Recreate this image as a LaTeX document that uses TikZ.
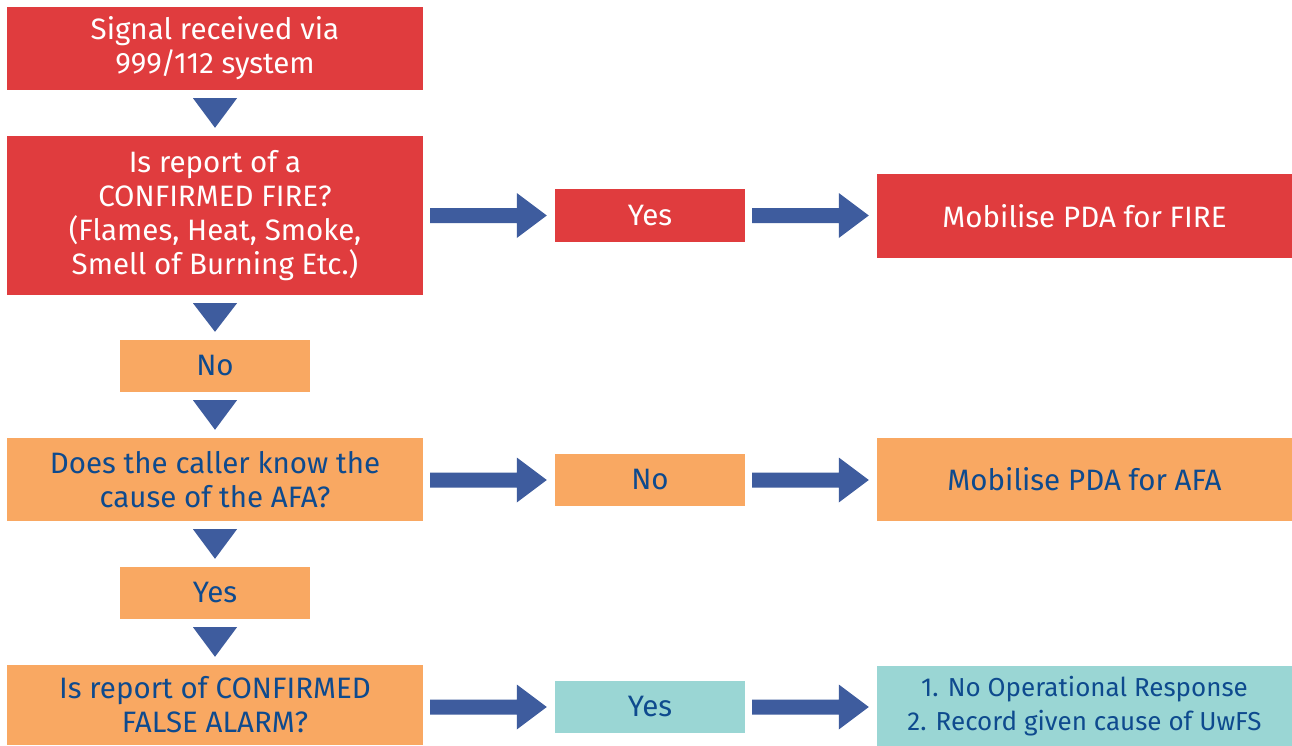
\documentclass[tikz,border=0pt]{standalone}
\usepackage{fontspec}
\setmainfont{Fira Sans}
\usetikzlibrary{calc}
\definecolor{cred}{HTML}{E03C3E}
\definecolor{corange}{HTML}{F9A862}
\definecolor{cteal}{HTML}{9AD6D4}
\definecolor{carrow}{HTML}{3E5C9E}
\definecolor{ctext}{HTML}{0E4A8E}
\begin{document}
\begin{tikzpicture}[x=1pt,y=-1pt,
  box/.style={rectangle,inner sep=0pt,align=center,font=\fontsize{29.5}{34}\selectfont},
  redbox/.style={box,fill=cred,text=white},
  orbox/.style={box,fill=corange,text=ctext},
  tealbox/.style={box,fill=cteal,text=ctext},
  wide/.style={minimum width=416pt},
  small/.style={minimum width=190pt,minimum height=52pt},
  arr/.style={fill=carrow}]
\useasboundingbox (0,0) rectangle (1292,745);
\fill[white] (0,0) rectangle (1292,745);
% left column
\node[redbox,wide,minimum height=83pt] (a) at (215,48.5) {Signal received via\\999/112 system};
\node[redbox,wide,minimum height=159pt] (b) at (215,215.5) {Is report of a\\CONFIRMED FIRE?\\(Flames, Heat, Smoke,\\Smell of Burning Etc.)};
\node[orbox,small] (c) at (215,366) {No};
\node[orbox,wide,minimum height=83pt] (d) at (215,479.5) {Does the caller know the\\cause of the AFA?};
\node[orbox,small] (e) at (215,593) {Yes};
\node[orbox,wide,minimum height=80pt] (f) at (215,705) {Is report of CONFIRMED\\FALSE ALARM?};
% middle column
\node[redbox,small,minimum height=53pt] (g) at (650,215.5) {Yes};
\node[orbox,small] (h) at (650,480) {No};
\node[tealbox,small] (i) at (650,707) {Yes};
% right column
\node[redbox,minimum width=415pt,minimum height=84pt] (j) at (1084.5,216) {Mobilise PDA for FIRE};
\node[orbox,minimum width=415pt,minimum height=83pt] (k) at (1084.5,479.5) {Mobilise PDA for AFA};
\node[tealbox,minimum width=415pt,minimum height=80pt,font=\fontsize{26}{34}\selectfont] (l) at (1084.5,706) {1. No Operational Response\\2. Record given cause of UwFS};
% down triangles
\foreach \p/\q in {a/b,b/c,c/d,d/e,e/f}{
  \fill[arr] ($(\p.south)+(-22,8)$) -- ($(\p.south)+(22,8)$) -- ($(\q.north)+(0,-8)$) -- cycle;
}
% right arrows
\foreach \p/\q/\yy in {b/g/215.5,g/j/215.5,d/h/480,h/k/480,f/i/707,i/l/707}{
  \coordinate (s) at ($(\p.east |- 0,\yy)+(7,0)$);
  \coordinate (t) at ($(\q.west |- 0,\yy)+(-8,0)$);
  \fill[arr] ($(s)+(0,-7.5)$) -- ($(t)+(-30,-7.5)$) -- ($(t)+(-30,-22.5)$) -- (t)
    -- ($(t)+(-30,22.5)$) -- ($(t)+(-30,7.5)$) -- ($(s)+(0,7.5)$) -- cycle;
}
\end{tikzpicture}
\end{document}
